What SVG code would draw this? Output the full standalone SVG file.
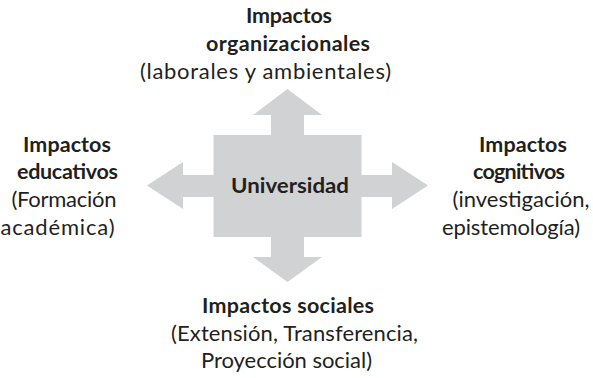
<svg xmlns="http://www.w3.org/2000/svg" width="593" height="378" viewBox="0 0 593 378">
<style>
.shape{fill:#d1d2d4;stroke:none}
text{font-family:Lato,"Open Sans","Liberation Sans",sans-serif;fill:#231f20;text-anchor:middle;font-size:22px}
.b{font-weight:bold;font-size:21.5px}
</style>
<rect width="593" height="378" fill="#ffffff"/>
<g id="connectors">
<polygon class="shape" points="271,136 271,115 253,115 287.5,89 322,115 304,115 304,136"/>
<polygon class="shape" points="271,236 271,257 253,257 287.5,282 322,257 304,257 304,236"/>
<polygon class="shape" points="214,175 183,175 183,162 147,185.5 183,209 183,197 214,197"/>
<polygon class="shape" points="361,175 392,175 392,162 428,185.5 392,209 392,197 361,197"/>
</g>
<g id="universidad">
<rect class="shape" x="213.5" y="135" width="148" height="102"/>
<text class="b" x="290" y="193" textLength="118" lengthAdjust="spacingAndGlyphs">Universidad</text>
</g>
<g id="organizacionales">
<text class="b" x="289" y="23" textLength="86">Impactos</text>
<text class="b" x="288" y="51" textLength="164">organizacionales</text>
<text x="265.5" y="79" textLength="251">(laborales y ambientales)</text>
</g>
<g id="educativos">
<text class="b" x="67" y="152" textLength="88">Impactos</text>
<text class="b" x="67.5" y="179" textLength="101">educativos</text>
<text x="64" y="207" textLength="105">(Formación</text>
<text x="57.5" y="235" textLength="114">académica)</text>
</g>
<g id="cognitivos">
<text class="b" x="523" y="152" textLength="88">Impactos</text>
<text class="b" x="519" y="179" textLength="92">cognitivos</text>
<text x="521" y="207" textLength="137">(investigación,</text>
<text x="511" y="235" textLength="138">epistemología)</text>
</g>
<g id="sociales">
<text class="b" x="288" y="313" textLength="172">Impactos sociales</text>
<text x="294.5" y="341" textLength="247">(Extensión, Transferencia,</text>
<text x="286.5" y="368" textLength="171">Proyección social)</text>
</g>
</svg>
